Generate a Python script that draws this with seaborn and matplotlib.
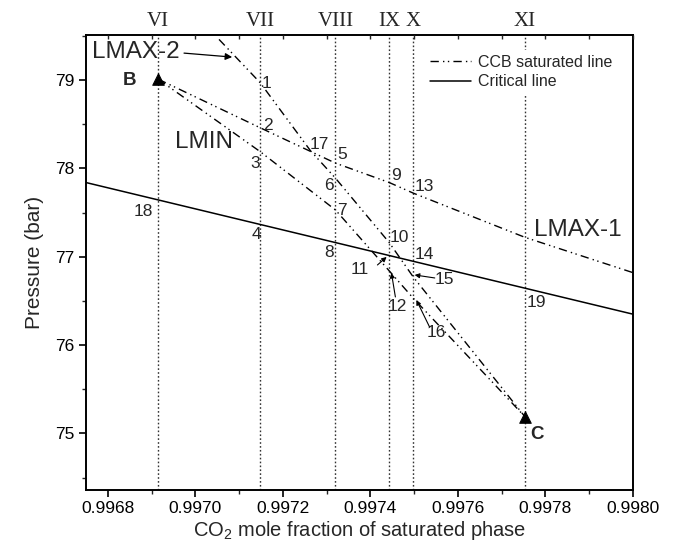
import matplotlib
matplotlib.use("Agg")
import matplotlib.pyplot as plt
from matplotlib.lines import Line2D
from matplotlib.ticker import MultipleLocator, FormatStrFormatter
import numpy as np
import pandas as pd
import seaborn as sns

# Isopleth positions (CO2 mole fraction) and their Roman labels
roman_labels = ["VI", "VII", "VIII", "IX", "X", "XI"]
roman_x = [0.996915, 0.997148, 0.99732, 0.997443, 0.997498, 0.997753]

# Critical line
crit_x = [0.99675, 0.9980]
crit_p = [77.84, 76.35]

# CCB saturated lines
lmax1_x = [0.996915, 0.997148, 0.99732, 0.997443, 0.997498, 0.997753, 0.9980]
lmax1_p = [79.01, 78.46, 78.06, 77.84, 77.72, 77.22, 76.82]

lmax2_x = [0.997054, 0.997148, 0.997263, 0.99732, 0.997443, 0.997498, 0.997753]
lmax2_p = [79.46, 78.97, 78.20, 77.89, 77.16, 76.77, 75.19]

lmin_x = [0.996915, 0.997148, 0.99732, 0.997443, 0.997498, 0.997753]
lmin_p = [79.01, 78.19, 77.53, 76.84, 76.53, 75.19]

# End points B and C
end_names = ["B", "C"]
end_x = [0.996915, 0.997753]
end_p = [79.01, 75.19]

sns.set_style("ticks")
plt.rcParams["font.family"] = ["Liberation Sans", "DejaVu Sans"]
plt.rcParams["mathtext.fontset"] = "custom"
plt.rcParams["mathtext.rm"] = "Liberation Sans"

fig = plt.figure(figsize=(6.73, 5.42), dpi=100)
ax = fig.add_axes([86 / 673, 1 - 490 / 542, (633 - 86) / 673, (490 - 35) / 542])

XMIN, XMAX = 0.99675, 0.9980
YMIN, YMAX = 74.36, 79.51

# vertical isopleths
for xv in roman_x:
    ax.axvline(xv, color="#333333", lw=1.0, ls=(0, (1.2, 1.6)), zorder=1)

ccb_ls = (0, (6, 3, 1, 2.5, 1, 3))
for xs, ps in [(lmax1_x, lmax1_p), (lmax2_x, lmax2_p), (lmin_x, lmin_p)]:
    df = pd.DataFrame({"x": xs, "p": ps})
    sns.lineplot(data=df, x="x", y="p", ax=ax, color="black", lw=1.0,
                 linestyle=ccb_ls, sort=False, estimator=None, zorder=3)

crit_df = pd.DataFrame({"x": crit_x, "p": crit_p})
sns.lineplot(data=crit_df, x="x", y="p", ax=ax, color="black", lw=1.1,
             sort=False, estimator=None, zorder=3)

ends = pd.DataFrame({"x": end_x, "p": end_p})
sns.scatterplot(data=ends, x="x", y="p", ax=ax, marker="^", s=70,
                color="black", edgecolor="black", zorder=5)

ax.set_xlim(XMIN, XMAX)
ax.set_ylim(YMIN, YMAX)

# point numbers
num_fs = 12.5
point_labels = {
    "1": (0.997162, 78.966), "2": (0.997166, 78.491), "3": (0.997137, 78.061),
    "17": (0.997283, 78.265), "5": (0.997336, 78.152), "6": (0.997306, 77.812),
    "7": (0.997334, 77.529), "8": (0.997306, 77.043), "9": (0.997459, 77.925),
    "13": (0.997524, 77.790), "10": (0.997466, 77.213), "14": (0.997524, 77.020),
    "18": (0.996882, 77.507), "4": (0.997139, 77.247), "19": (0.997780, 76.477),
}
for t, (xx, yy) in point_labels.items():
    ax.text(xx, yy, t, fontsize=num_fs, ha="center", va="center", zorder=6)

# numbers pointing at points with small arrows
arrow_labels = [
    ("11", (0.997375, 76.851), (0.997416, 76.907), (0.997437, 76.998)),
    ("15", (0.997569, 76.738), (0.997547, 76.760), (0.997501, 76.794)),
    ("12", (0.997462, 76.432), (0.997457, 76.545), (0.997448, 76.817)),
    ("16", (0.997551, 76.138), (0.997535, 76.206), (0.997505, 76.511)),
]
for t, pos, start, end in arrow_labels:
    ax.text(pos[0], pos[1], t, fontsize=num_fs, ha="center", va="center", zorder=6)
    ax.annotate("", xy=end, xytext=start,
                arrowprops=dict(arrowstyle="-|>", color="black", lw=0.8,
                                mutation_scale=7, shrinkA=0, shrinkB=0), zorder=6)

# curve names
name_fs = 17.5
ax.text(0.996864, 79.317, "LMAX-2", fontsize=name_fs, ha="center", va="center", zorder=6)
ax.annotate("", xy=(0.997084, 79.26), xytext=(0.996974, 79.305),
            arrowprops=dict(arrowstyle="-|>", color="black", lw=0.9,
                            mutation_scale=10, shrinkA=0, shrinkB=0), zorder=6)
ax.text(0.997020, 78.299, "LMIN", fontsize=name_fs, ha="center", va="center", zorder=6)
ax.text(0.997874, 77.303, "LMAX-1", fontsize=name_fs, ha="center", va="center", zorder=6)

ax.text(0.996850, 79.0, end_names[0], fontsize=13.5, fontweight="bold",
        ha="center", va="center", zorder=6)
ax.text(0.997780, 74.984, end_names[1], fontsize=13.5, fontweight="bold",
        ha="center", va="center", zorder=6)

# axes styling
for sp in ax.spines.values():
    sp.set_visible(True)
    sp.set_linewidth(1.4)
    sp.set_color("black")

ax.xaxis.set_major_locator(MultipleLocator(0.0002))
ax.xaxis.set_minor_locator(MultipleLocator(0.0001))
ax.xaxis.set_major_formatter(FormatStrFormatter("%.4f"))
ax.yaxis.set_major_locator(MultipleLocator(1))
ax.yaxis.set_minor_locator(MultipleLocator(0.5))
ax.tick_params(axis="both", which="major", direction="out", length=5, width=1.2,
               labelsize=12.5, colors="black")
ax.tick_params(axis="both", which="minor", direction="out", length=3, width=1.0)
ax.tick_params(axis="x", pad=3)

ax.set_xlabel("CO$_2$ mole fraction of saturated phase", fontsize=14.5, labelpad=2)
ax.set_ylabel("Pressure (bar)", fontsize=15, labelpad=8)

# top axis: Roman numerals at the isopleths, inward minor ticks
top = ax.twiny()
top.set_xlim(XMIN, XMAX)
top.set_xticks(roman_x)
top.set_xticklabels(roman_labels, family=["Liberation Serif", "DejaVu Serif"], fontsize=15)
top.xaxis.set_minor_locator(MultipleLocator(0.0001))
top.tick_params(axis="x", which="major", length=0, pad=3)
top.tick_params(axis="x", which="minor", direction="in", length=3, width=1.0)
for sp in top.spines.values():
    sp.set_visible(False)

handles = [
    Line2D([0], [0], color="black", lw=1.0, linestyle=ccb_ls),
    Line2D([0], [0], color="black", lw=1.1),
]
leg = ax.legend(handles, ["CCB saturated line", "Critical line"],
                loc="upper right", bbox_to_anchor=(0.985, 0.985), fontsize=11.5,
                frameon=True, fancybox=False, framealpha=1.0, edgecolor="none",
                handlelength=2.6, handletextpad=0.4, labelspacing=0.3,
                borderpad=0.3)
leg.set_zorder(10)

fig.savefig("out.png", dpi=100)
